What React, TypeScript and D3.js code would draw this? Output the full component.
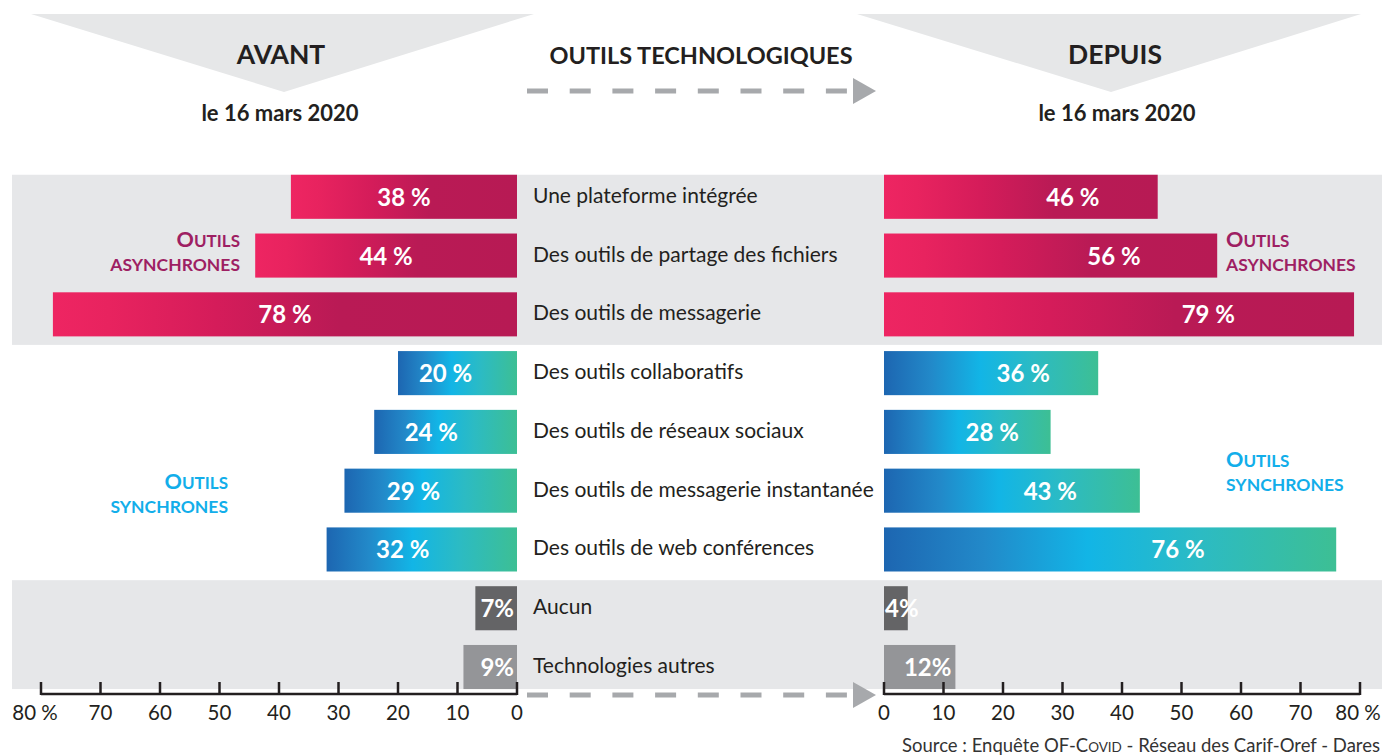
import React from "react";
import * as d3 from "d3";

const categories = [
  "Une plateforme intégrée",
  "Des outils de partage des fichiers",
  "Des outils de messagerie",
  "Des outils collaboratifs",
  "Des outils de réseaux sociaux",
  "Des outils de messagerie instantanée",
  "Des outils de web conférences",
  "Aucun",
  "Technologies autres",
];
const groups = ["async", "async", "async", "sync", "sync", "sync", "sync", "none", "other"];
const avantValues = [38, 44, 78, 20, 24, 29, 32, 7, 9];
const depuisValues = [46, 56, 79, 36, 28, 43, 76, 4, 12];
const tickValues = [0, 10, 20, 30, 40, 50, 60, 70, 80];

const FONT = "Lato, 'Noto Sans', sans-serif";
const W = 1382;
const H = 756;

const xLeft = d3.scaleLinear().domain([0, 80]).range([517, 41]);
const xRight = d3.scaleLinear().domain([0, 80]).range([884, 1360]);
const y = d3
  .scaleBand<string>()
  .domain(categories)
  .range([167.4, 696.4])
  .paddingInner(0.25)
  .paddingOuter(0.125);

const fillFor = (g: string) =>
  g === "async" ? "url(#gPink)" : g === "sync" ? "url(#gBlue)" : g === "none" ? "#646466" : "#949598";

function pctLabel(v: number, g: string) {
  return g === "none" || g === "other" ? `${v}%` : `${v} %`;
}

function Dashed({ yPos }: { yPos: number }) {
  const starts = d3.range(8).map((i) => 527 + i * 42.7);
  return (
    <g>
      {starts.map((s, i) => (
        <rect key={i} x={s} y={yPos - 2.5} width={21} height={5} fill="#A7A9AC" />
      ))}
      <path d={`M853,${yPos - 13} L876,${yPos} L853,${yPos + 13} Z`} fill="#A7A9AC" />
    </g>
  );
}

function GroupLabel({ x, yTop, anchor, color, second }: any) {
  return (
    <g fill={color} fontFamily={FONT} fontWeight={700} textAnchor={anchor}>
      <text x={x} y={yTop}>
        <tspan fontSize={21.5}>O</tspan>
        <tspan fontSize={17}>UTILS</tspan>
      </text>
      <text x={x} y={yTop + 24} fontSize={17.5}>
        {second}
      </text>
    </g>
  );
}

export default function App() {
  const bw = y.bandwidth();
  const rowC = (i: number) => (y(categories[i]) as number) + bw / 2;
  const topBandY = y(categories[0]) as number;
  const topBandB = (y(categories[2]) as number) + bw + 8.5;
  const botBandY = (y(categories[7]) as number) - 6;
  const botBandB = (y(categories[8]) as number) + bw;

  return (
    <div style={{ position: "absolute", left: 0, top: 0 }}>
      <svg width={W} height={H} style={{ display: "block", background: "#fff" }}>
        <defs>
          <linearGradient id="gPink" x1="0" x2="1" y1="0" y2="0">
            <stop offset="0" stopColor="#EE2562" />
            <stop offset="0.12" stopColor="#E8235F" />
            <stop offset="0.35" stopColor="#D51C5A" />
            <stop offset="0.62" stopColor="#B91A55" />
            <stop offset="1" stopColor="#B71A54" />
          </linearGradient>
          <linearGradient id="gBlue" x1="0" x2="1" y1="0" y2="0">
            <stop offset="0" stopColor="#1D66B1" />
            <stop offset="0.22" stopColor="#2289C9" />
            <stop offset="0.45" stopColor="#12B5E6" />
            <stop offset="0.7" stopColor="#2CBBC3" />
            <stop offset="1" stopColor="#3DBF94" />
          </linearGradient>
        </defs>

        {/* header triangles */}
        <path d="M31,14 L534,14 L284,92 Z" fill="#E6E7E8" />
        <path d="M857,14 L1361,14 L1111,92 Z" fill="#E6E7E8" />
        <g fontFamily={FONT} fill="#231F20" textAnchor="middle">
          <text x={281} y={64} fontSize={26.5} fontWeight={700}>AVANT</text>
          <text x={1115} y={64} fontSize={26.5} fontWeight={700}>DEPUIS</text>
          <text x={701} y={64} fontSize={23.5} fontWeight={700}>OUTILS TECHNOLOGIQUES</text>
          <text x={280} y={121} fontSize={22} fontWeight={700}>le 16 mars 2020</text>
          <text x={1117} y={121} fontSize={22} fontWeight={700}>le 16 mars 2020</text>
        </g>
        <Dashed yPos={91} />

        {/* grey bands */}
        <rect x={12} y={topBandY} width={W - 12} height={topBandB - topBandY} fill="#E6E7E9" />
        <rect x={12} y={botBandY} width={W - 12} height={botBandB - botBandY} fill="#E6E7E9" />

        {/* bars */}
        {categories.map((c, i) => {
          const g = groups[i];
          const yy = y(c) as number;
          const a = avantValues[i];
          const d = depuisValues[i];
          return (
            <g key={c}>
              <rect x={xLeft(a)} y={yy} width={xLeft(0) - xLeft(a)} height={bw} fill={fillFor(g)} />
              <rect x={xRight(0)} y={yy} width={xRight(d) - xRight(0)} height={bw} fill={fillFor(g)} />
            </g>
          );
        })}

        {/* value labels */}
        <g fontFamily={FONT} fontWeight={700} fill="#fff" fontSize={24}>
          {categories.map((c, i) => {
            const g = groups[i];
            const cy = rowC(i) + 9;
            const a = avantValues[i];
            const d = depuisValues[i];
            let lx: number, la: string, rx: number, ra: string;
            if (g === "async" || g === "sync") {
              lx = xLeft(a * (g === "async" ? 0.5 : 0.6));
              la = "middle";
              rx = xRight(d * (g === "async" ? 0.69 : 0.65));
              ra = "middle";
            } else {
              lx = xLeft(0) - 3;
              la = "end";
              if (d < 8) {
                rx = xRight(0) + 1;
                ra = "start";
              } else {
                rx = xRight(d) - 4;
                ra = "end";
              }
            }
            return (
              <g key={c}>
                <text x={lx} y={cy} textAnchor={la}>{pctLabel(a, g)}</text>
                <text x={rx} y={cy} textAnchor={ra}>{pctLabel(d, g)}</text>
              </g>
            );
          })}
        </g>

        {/* category labels */}
        <g fontFamily={FONT} fontSize={21} fill="#231F20">
          {categories.map((c, i) => (
            <text key={c} x={533} y={rowC(i) + 6}>{c}</text>
          ))}
        </g>

        {/* group labels */}
        <GroupLabel x={240} yTop={247} anchor="end" color="#9E1F63" second="ASYNCHRONES" />
        <GroupLabel x={1226} yTop={247} anchor="start" color="#9E1F63" second="ASYNCHRONES" />
        <GroupLabel x={228} yTop={489} anchor="end" color="#12AEEA" second="SYNCHRONES" />
        <GroupLabel x={1226} yTop={467} anchor="start" color="#12AEEA" second="SYNCHRONES" />

        {/* bottom arrow */}
        <Dashed yPos={695} />

        {/* axes */}
        <g stroke="#231F20" strokeWidth={2.5} fill="none">
          <line x1={xLeft(80)} x2={xLeft(0)} y1={694} y2={694} />
          <line x1={xRight(0)} x2={xRight(80)} y1={694} y2={694} />
          {tickValues.map((t) => (
            <g key={t}>
              <line x1={xLeft(t)} x2={xLeft(t)} y1={682} y2={695} />
              <line x1={xRight(t)} x2={xRight(t)} y1={682} y2={695} />
            </g>
          ))}
        </g>
        <g fontFamily={FONT} fontSize={20.5} fill="#231F20" textAnchor="middle">
          {tickValues.map((t) => (
            <g key={t}>
              <text x={xLeft(t) - (t === 80 ? 6 : 0)} y={720}>{t === 80 ? "80 %" : t}</text>
              <text x={xRight(t) - (t === 80 ? 2 : 0)} y={720}>{t === 80 ? "80 %" : t}</text>
            </g>
          ))}
        </g>

        <text x={1380} y={752} fontFamily={FONT} fontSize={18.5} fill="#333" textAnchor="end">
          Source : Enquête OF-C<tspan fontSize={13.5}>OVID</tspan> - Réseau des Carif-Oref - Dares
        </text>
      </svg>
    </div>
  );
}
